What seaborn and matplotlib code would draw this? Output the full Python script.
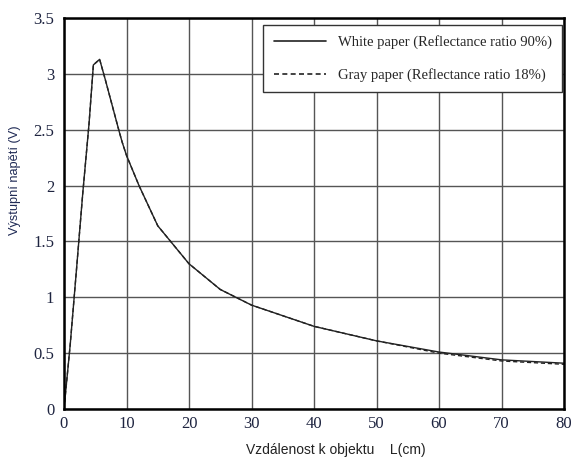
import matplotlib
matplotlib.use("Agg")
import matplotlib.pyplot as plt
import seaborn as sns
import pandas as pd
from matplotlib.lines import Line2D

# Data
distance_cm = [0, 1, 2, 3, 4, 4.7, 5.7, 6.6, 8.8, 9.3, 10, 12, 15, 20, 25, 30, 40, 50, 60, 70, 80]
white_paper_v = [0, 0.58, 1.25, 1.93, 2.55, 3.08, 3.13, 2.95, 2.49, 2.39, 2.27, 2.00, 1.64, 1.30, 1.07, 0.93, 0.74, 0.61, 0.51, 0.44, 0.41]
gray_paper_v = [0, 0.58, 1.25, 1.93, 2.55, 3.08, 3.13, 2.95, 2.49, 2.39, 2.27, 2.00, 1.64, 1.30, 1.07, 0.93, 0.74, 0.61, 0.50, 0.43, 0.40]
series_names = ["White paper (Reflectance ratio 90%)", "Gray paper (Reflectance ratio 18%)"]
x_ticks = [0, 10, 20, 30, 40, 50, 60, 70, 80]
y_ticks = [0, 0.5, 1, 1.5, 2, 2.5, 3, 3.5]
y_tick_labels = ["0", "0.5", "1", "1.5", "2", "2.5", "3", "3.5"]

df = pd.concat([
    pd.DataFrame({"L": distance_cm, "V": white_paper_v, "paper": series_names[0]}),
    pd.DataFrame({"L": distance_cm, "V": gray_paper_v, "paper": series_names[1]}),
])

sns.set_theme(style="white")
W, H = 572, 457
fig = plt.figure(figsize=(W / 100, H / 100), dpi=100)
ax = fig.add_axes([64 / W, (H - 409) / H, 500 / W, 391 / H])

sns.lineplot(data=df, x="L", y="V", hue="paper", style="paper",
             palette=["#222222", "#222222"], dashes=[(None, None), (3, 2)],
             linewidth=1.0, ax=ax, legend=False, sort=False)

ax.set_xlim(0, 80)
ax.set_ylim(0, 3.5)
ax.set_xticks(x_ticks)
ax.set_yticks(y_ticks)
ax.set_yticklabels(y_tick_labels)
ax.grid(True, color="#555555", linewidth=1.0)
ax.set_axisbelow(True)
for s in ax.spines.values():
    s.set_color("black")
    s.set_linewidth(1.8)
ax.tick_params(axis="both", length=0)
ax.tick_params(axis="x", pad=5)
ax.tick_params(axis="y", pad=7)
tick_color = "#1e2440"
for lab in ax.get_xticklabels() + ax.get_yticklabels():
    lab.set_family("Liberation Serif")
    lab.set_fontsize(12)
    lab.set_color(tick_color)

ax.set_xlabel("")
ax.set_ylabel("")
fig.text(336 / W, 1 - 450 / H, "Vzdálenost k objektu    L(cm)", family="Liberation Sans",
         fontsize=10, color="#222222", ha="center", va="center")
fig.text(15 / W, 1 - 180 / H, "Výstupní napětí (V)", family="Liberation Sans",
         fontsize=9.2, color="#1f2a55", ha="center", va="center", rotation=90)

handles = [Line2D([], [], color="#222222", lw=1.2),
           Line2D([], [], color="#222222", lw=1.2, ls=(0, (3, 2)))]
leg = ax.legend(handles, series_names, loc="upper right",
                bbox_to_anchor=((562 - 64) / 500, (409 - 25) / 391), borderaxespad=0,
                prop={"family": "Liberation Serif", "size": 10.5}, frameon=True,
                fancybox=False, edgecolor="#333333", framealpha=1,
                handlelength=3.6, labelspacing=1.3, borderpad=0.7, handletextpad=0.8)
leg.get_frame().set_linewidth(1.0)

fig.savefig("out.png", dpi=100)
